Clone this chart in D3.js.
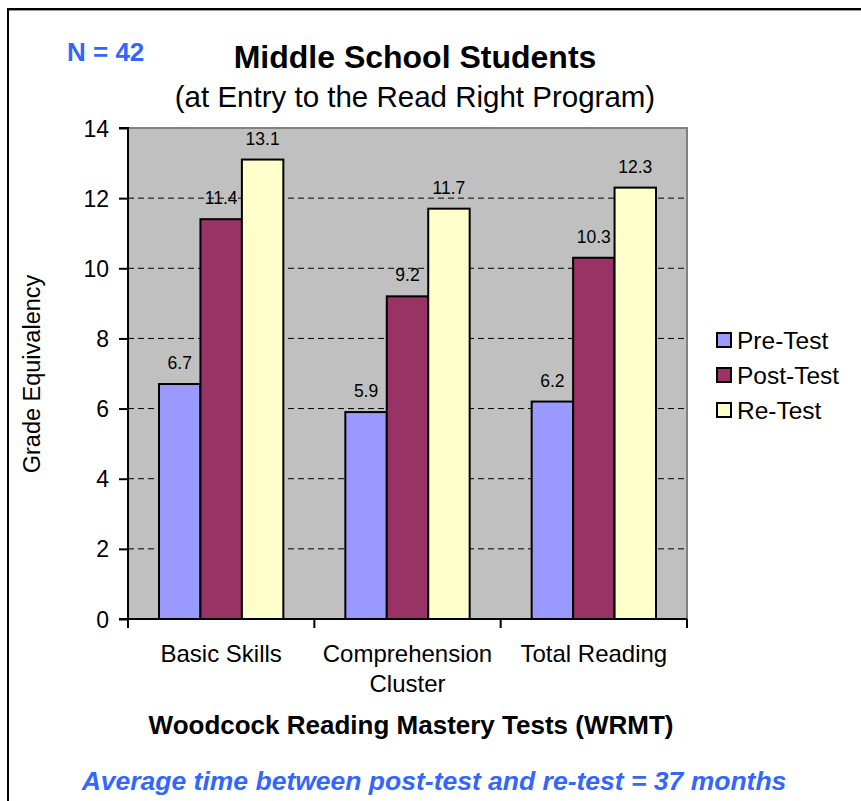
<!DOCTYPE html>
<html>
<head>
<meta charset="utf-8">
<script src="https://cdn.jsdelivr.net/npm/d3@7"></script>
<style>
  html, body { margin: 0; padding: 0; background: #fff; }
  svg { display: block; font-family: Arial, "Liberation Sans", sans-serif; }
</style>
</head>
<body>
<svg id="chart" width="861" height="801"></svg>
<script>
const categories = [["Basic Skills"], ["Comprehension", "Cluster"], ["Total Reading"]];
const categoryKeys = ["Basic Skills", "Comprehension Cluster", "Total Reading"];
const seriesNames = ["Pre-Test", "Post-Test", "Re-Test"];
const preTest = [6.7, 5.9, 6.2];
const postTest = [11.4, 9.2, 10.3];
const reTest = [13.1, 11.7, 12.3];
const seriesColors = ["#9999FF", "#993366", "#FFFFCC"];
const yTicks = [0, 2, 4, 6, 8, 10, 12, 14];

(function () {
const seriesValues = [preTest, postTest, reTest];
const svg = d3.select("#chart");

// frame
svg.append("path").attr("d", "M8,801 V9 H861").attr("fill", "none").attr("stroke", "#000").attr("stroke-width", 2);
svg.append("line").attr("x1", 9).attr("x2", 861).attr("y1", 10.5).attr("y2", 10.5).attr("stroke", "#999").attr("stroke-width", 1);

const pLeft = 128, pRight = 687, pTop = 128, pBottom = 619;
const x0 = d3.scaleBand().domain(categoryKeys).range([pLeft, pRight]).padding(0);
const x1 = d3.scaleBand().domain(seriesNames).range([31, x0.bandwidth() - 31]).padding(0);
const y = d3.scaleLinear().domain([0, 14]).range([pBottom, pTop]);

// plot background
svg.append("rect").attr("x", pLeft).attr("y", pTop).attr("width", pRight - pLeft).attr("height", pBottom - pTop)
  .attr("fill", "#C0C0C0");
svg.append("path").attr("d", `M${pLeft},${pTop} H${pRight} V${pBottom}`).attr("fill", "none")
  .attr("stroke", "#808080").attr("stroke-width", 2);

// gridlines
svg.append("g").selectAll("line").data(yTicks.filter(t => t > 0 && t < 14)).join("line")
  .attr("x1", pLeft).attr("x2", pRight).attr("y1", d => y(d)).attr("y2", d => y(d))
  .attr("stroke", "#000").attr("stroke-width", 1).attr("stroke-dasharray", "6,4");

// bars
const groups = svg.append("g").selectAll("g").data(categoryKeys).join("g")
  .attr("transform", d => `translate(${x0(d)},0)`);
groups.each(function(cat, ci) {
  const g = d3.select(this);
  seriesNames.forEach((s, si) => {
    const v = seriesValues[si][ci];
    g.append("rect").attr("x", x1(s)).attr("y", y(v)).attr("width", x1.bandwidth()).attr("height", y(0) - y(v))
      .attr("fill", seriesColors[si]).attr("stroke", "#000").attr("stroke-width", 2);
    g.append("text").attr("x", x1(s) + x1.bandwidth() / 2).attr("y", y(v) - 15)
      .attr("text-anchor", "middle").attr("font-size", 17.5).attr("fill", "#000").text(v.toFixed(1));
  });
});

// y axis
const yAxis = d3.axisLeft(y).tickValues(yTicks).tickSize(9).tickPadding(10).tickFormat(d3.format("d"));
const yg = svg.append("g").attr("transform", `translate(${pLeft},0)`).call(yAxis);
yg.select(".domain").attr("stroke", "#000").attr("stroke-width", 2).attr("d", `M-9,${pTop}H0V${pBottom}H-9`);
yg.selectAll(".tick line").attr("stroke", "#000").attr("stroke-width", 2);
yg.selectAll(".tick text").attr("font-size", 23).attr("font-family", "Arial, 'Liberation Sans', sans-serif").attr("fill", "#000").attr("dy", "0.35em");

// x axis
const xAxis = d3.axisBottom(x0).tickSize(0).tickFormat("");
const xg = svg.append("g").attr("transform", `translate(0,${pBottom})`).call(xAxis);
xg.select(".domain").attr("stroke", "#000").attr("stroke-width", 2).attr("d", `M${pLeft},0H${pRight}`);
const boundaries = categoryKeys.map(c => x0(c)).concat([pRight]);
svg.append("g").selectAll("line").data(boundaries).join("line")
  .attr("x1", d => d).attr("x2", d => d).attr("y1", pBottom).attr("y2", pBottom + 9)
  .attr("stroke", "#000").attr("stroke-width", 2);

// category labels
categoryKeys.forEach((c, i) => {
  const t = svg.append("text").attr("x", x0(c) + x0.bandwidth() / 2).attr("y", 662)
    .attr("text-anchor", "middle").attr("font-size", 24).attr("fill", "#000");
  categories[i].forEach((line, li) => {
    t.append("tspan").attr("x", x0(c) + x0.bandwidth() / 2).attr("dy", li === 0 ? 0 : 30).text(line);
  });
});

// y title
svg.append("text").attr("transform", "translate(40,374) rotate(-90)").attr("text-anchor", "middle")
  .attr("font-size", 23.5).attr("fill", "#000").text("Grade Equivalency");

// titles
svg.append("text").attr("x", 415).attr("y", 68).attr("text-anchor", "middle").attr("font-size", 32)
  .attr("font-weight", "bold").attr("fill", "#000").text("Middle School Students");
svg.append("text").attr("x", 415).attr("y", 107).attr("text-anchor", "middle").attr("font-size", 29.5)
  .attr("fill", "#000").text("(at Entry to the Read Right Program)");
svg.append("text").attr("x", 67).attr("y", 61).attr("font-size", 26).attr("font-weight", "bold")
  .attr("fill", "#3366FF").text("N = 42");

// x title
svg.append("text").attr("x", 411).attr("y", 734).attr("text-anchor", "middle").attr("font-size", 26)
  .attr("font-weight", "bold").attr("fill", "#000").text("Woodcock Reading Mastery Tests (WRMT)");

// footer
svg.append("text").attr("x", 434).attr("y", 790).attr("text-anchor", "middle").attr("font-size", 26.5)
  .attr("font-weight", "bold").attr("font-style", "italic").attr("fill", "#3366FF")
  .text("Average time between post-test and re-test = 37 months");

// legend
const legend = svg.append("g").selectAll("g").data(seriesNames).join("g")
  .attr("transform", (d, i) => `translate(717,${340 + i * 35})`);
legend.append("rect").attr("x", 0).attr("y", -7).attr("width", 14).attr("height", 14)
  .attr("fill", (d, i) => seriesColors[i]).attr("stroke", "#000").attr("stroke-width", 2);
legend.append("text").attr("x", 20).attr("y", 0).attr("dy", "0.36em").attr("font-size", 24.5)
  .attr("fill", "#000").text(d => d);
})();
</script>
</body>
</html>
